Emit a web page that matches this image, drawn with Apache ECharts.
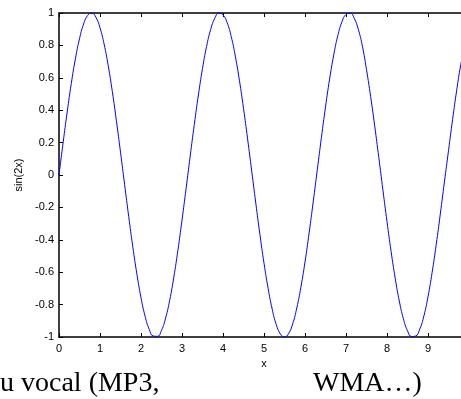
<!DOCTYPE html>
<html>
<head>
<meta charset="utf-8">
<script src="https://cdn.jsdelivr.net/npm/echarts@6/dist/echarts.min.js"></script>
<style>
  html, body { margin: 0; padding: 0; background: #fff; overflow: hidden; }
  /* plot runs on past the right edge of the window, as in the reference */
  #chart { width: 469px; height: 399px; }
</style>
</head>
<body>
<div id="chart"></div>
<script>
// x samples and sin(2x) values
const xValues = [
  0, 0.1, 0.2, 0.3, 0.4, 0.5, 0.6, 0.7, 0.8, 0.9,
  1, 1.1, 1.2, 1.3, 1.4, 1.5, 1.6, 1.7, 1.8, 1.9,
  2, 2.1, 2.2, 2.3, 2.4, 2.5, 2.6, 2.7, 2.8, 2.9,
  3, 3.1, 3.2, 3.3, 3.4, 3.5, 3.6, 3.7, 3.8, 3.9,
  4, 4.1, 4.2, 4.3, 4.4, 4.5, 4.6, 4.7, 4.8, 4.9,
  5, 5.1, 5.2, 5.3, 5.4, 5.5, 5.6, 5.7, 5.8, 5.9,
  6, 6.1, 6.2, 6.3, 6.4, 6.5, 6.6, 6.7, 6.8, 6.9,
  7, 7.1, 7.2, 7.3, 7.4, 7.5, 7.6, 7.7, 7.8, 7.9,
  8, 8.1, 8.2, 8.3, 8.4, 8.5, 8.6, 8.7, 8.8, 8.9,
  9, 9.1, 9.2, 9.3, 9.4, 9.5, 9.6, 9.7, 9.8, 9.9, 10
]
const yValues = [
  0, 0.199, 0.389, 0.565, 0.717, 0.841, 0.932, 0.985, 1.0, 0.974,
  0.909, 0.808, 0.675, 0.516, 0.335, 0.141, -0.058, -0.256, -0.443, -0.612,
  -0.757, -0.872, -0.952, -0.994, -0.996, -0.959, -0.883, -0.773, -0.631, -0.465,
  -0.279, -0.083, 0.117, 0.312, 0.494, 0.657, 0.794, 0.899, 0.968, 0.999,
  0.989, 0.941, 0.855, 0.734, 0.585, 0.412, 0.223, 0.025, -0.174, -0.366,
  -0.544, -0.699, -0.828, -0.924, -0.981, -1.0, -0.979, -0.918, -0.821, -0.692,
  -0.537, -0.358, -0.166, 0.033, 0.231, 0.42, 0.592, 0.74, 0.86, 0.944,
  0.991, 0.999, 0.968, 0.899, 0.795, 0.65, 0.486, 0.303, 0.108, -0.092,
  -0.288, -0.472, -0.637, -0.778, -0.887, -0.961, -0.997, -0.994, -0.951, -0.87,
  -0.751, -0.602, -0.43, -0.241, -0.043, 0.15, 0.343, 0.523, 0.681, 0.795, 0.913
]

const chart = echarts.init(document.getElementById('chart'))

const axisFont = { color: '#000', fontSize: 11, fontFamily: 'Liberation Sans, Arial, sans-serif' }
const axisLine = { show: true, onZero: false, lineStyle: { color: '#000', width: 1.5 } }
const ticks = { inside: true, length: 4, lineStyle: { color: '#000' } }
const captionFont = '28px "Liberation Serif", serif'

const option = {
  animation: false,
  grid: { left: 59, top: 13, bottom: 62, right: 0, outerBoundsMode: 'none', containLabel: false },
  xAxis: [
    {
      type: 'value',
      position: 'bottom',
      min: 0,
      max: 10,
      interval: 1,
      name: 'x',
      nameLocation: 'middle',
      nameGap: 21,
      nameTextStyle: axisFont,
      axisLine: axisLine,
      axisTick: ticks,
      axisLabel: Object.assign({ margin: 6, showMaxLabel: false }, axisFont),
      splitLine: { show: false },
    },
    {
      type: 'value',
      position: 'top',
      min: 0,
      max: 10,
      interval: 1,
      axisLine: axisLine,
      axisTick: ticks,
      axisLabel: { show: false },
      splitLine: { show: false },
    },
  ],
  yAxis: {
    type: 'value',
    min: -1,
    max: 1,
    interval: 0.2,
    name: 'sin(2x)',
    nameLocation: 'middle',
    nameGap: 34,
    nameTextStyle: axisFont,
    axisLine: axisLine,
    axisTick: ticks,
    axisLabel: Object.assign({ margin: 5, formatter: v => String(Math.round(v * 10) / 10) }, axisFont),
    splitLine: { show: false },
  },
  series: [
    {
      type: 'line',
      data: xValues.map((x, i) => [x, yValues[i]]),
      smooth: true,
      showSymbol: false,
      lineStyle: { color: '#0000ff', width: 1 },
    },
  ],
  graphic: [
    {
      type: 'text',
      left: 0,
      top: 370,
      style: { text: 'u vocal (MP3,', fill: '#000', font: captionFont },
    },
    {
      type: 'text',
      left: 313,
      top: 370,
      style: { text: 'WMA…)', fill: '#000', font: captionFont },
    },
  ],
}

chart.setOption(option)
</script>
</body>
</html>
